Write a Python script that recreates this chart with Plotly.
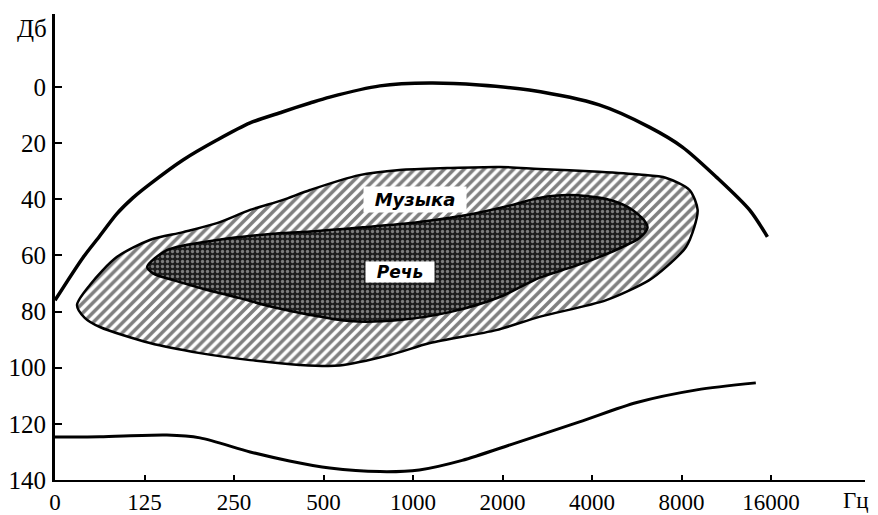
import plotly.graph_objects as go

# X axis: equally spaced octave bands (index positions), labels in Hz
x_tick_labels = ["0", "125", "250", "500", "1000", "2000", "4000", "8000", "16000"]
y_tick_vals = [0, 20, 40, 60, 80, 100, 120, 140]

# Upper curve (threshold of pain)
pain_x = [0.0, 0.31, 0.50, 0.69, 0.87, 1.06, 1.43, 1.81, 2.18, 2.54, 2.85, 3.07, 3.63, 4.19, 4.74, 5.30, 6.08, 6.64, 7.01, 7.39, 7.76, 7.96]
pain_db = [76.0, 60.9, 53.1, 45.2, 39.5, 34.6, 26.0, 18.9, 12.8, 8.9, 5.7, 3.6, -0.4, -1.4, -0.7, 1.1, 6.4, 14.3, 21.4, 32.1, 43.8, 53.4]

# Lower curve (threshold of hearing)
hear_x = [0.0, 0.50, 1.25, 1.62, 2.18, 2.62, 3.07, 3.63, 4.07, 4.55, 5.11, 5.86, 6.50, 7.17, 7.83]
hear_db = [124.7, 124.6, 124.0, 125.0, 130.0, 133.2, 135.7, 137.0, 136.4, 133.0, 127.2, 119.3, 112.4, 107.9, 105.4]

# Music region outline
music_x = [0.246, 0.39, 0.69, 1.06, 1.43, 1.81, 2.18, 2.54, 2.85, 3.40, 3.85, 4.38, 4.97, 5.41, 6.08, 6.53, 6.83, 7.09, 7.18,
           7.14, 7.05, 6.83, 6.64, 6.16, 5.41, 4.93, 4.19, 3.74, 3.18, 2.73, 2.18, 1.62, 1.06, 0.502, 0.335, 0.246]
music_db = [77.7, 70.5, 60.6, 54.5, 51.7, 48.5, 43.8, 40.3, 36.7, 31.4, 29.6, 28.9, 28.5, 29.2, 30.2, 31.2, 32.4, 36.7, 43.8,
            50.2, 57.0, 64.1, 68.8, 75.9, 81.9, 86.6, 91.2, 95.5, 99.2, 99.0, 97.3, 94.8, 91.2, 85.5, 82.3, 77.7]

# Speech region outline
speech_x = [1.03, 1.25, 1.81, 2.54, 2.85, 3.44, 4.07, 4.60, 5.11, 5.41, 5.75, 6.16, 6.42, 6.58, 6.62,
            6.53, 6.34, 6.08, 5.78, 5.41, 4.97, 4.41, 3.85, 3.29, 2.85, 2.43, 2.06, 1.70, 1.32, 1.10, 1.03]
speech_db = [64.1, 58.1, 54.5, 52.0, 51.5, 50.0, 48.1, 45.6, 42.0, 39.5, 38.5, 39.9, 43.1, 47.4, 50.2,
             53.8, 57.0, 60.6, 64.1, 68.0, 74.8, 80.2, 83.0, 83.4, 81.2, 78.4, 75.2, 72.3, 68.8, 66.5, 64.1]

SERIF = "Liberation Serif"

fig = go.Figure()

fig.add_trace(go.Scatter(
    x=music_x, y=music_db, mode="lines", fill="toself",
    line=dict(color="black", width=2.5, shape="spline", smoothing=0.8),
    fillcolor="white",
    fillpattern=dict(shape="/", fgcolor="black", bgcolor="white", size=7, solidity=0.5),
    hoverinfo="skip", showlegend=False,
))

fig.add_trace(go.Scatter(
    x=speech_x, y=speech_db, mode="lines", fill="toself",
    line=dict(color="black", width=2.5, shape="spline", smoothing=0.8),
    fillcolor="#1c1c1c",
    fillpattern=dict(shape=".", fgcolor="#e0e0e0", bgcolor="#1c1c1c", size=5, solidity=0.35),
    hoverinfo="skip", showlegend=False,
))

fig.add_trace(go.Scatter(
    x=pain_x, y=pain_db, mode="lines",
    line=dict(color="black", width=3.5, shape="spline", smoothing=0.8),
    hoverinfo="skip", showlegend=False,
))

fig.add_trace(go.Scatter(
    x=hear_x, y=hear_db, mode="lines",
    line=dict(color="black", width=3, shape="spline", smoothing=0.8),
    hoverinfo="skip", showlegend=False,
))

fig.add_annotation(x=4.02, y=39.9, text="Музыка", showarrow=False,
                   font=dict(family="DejaVu Sans", size=18, color="black", weight="bold", style="italic"),
                   bgcolor="white", borderpad=1, width=100, height=23)
fig.add_annotation(x=3.85, y=65.9, text="Речь", showarrow=False,
                   font=dict(family="DejaVu Sans", size=17, color="black", weight="bold", style="italic"),
                   bgcolor="white", borderpad=1, width=66, height=18)

fig.add_annotation(x=-0.028, y=0.968, xref="paper", yref="paper", text="Дб", showarrow=False,
                   xanchor="center", yanchor="middle",
                   font=dict(family=SERIF, size=25, color="black"))
fig.add_annotation(x=0.989, y=-0.045, xref="paper", yref="paper", xanchor="center", yanchor="middle",
                   text="Гц", showarrow=False,
                   font=dict(family=SERIF, size=23, color="black"))

# the page adds an 8px body margin, so the figure is sized to fit the 878x515 window
fig.update_layout(
    width=870, height=507,
    margin=dict(l=47, r=13, t=6, b=35, autoexpand=False),
    paper_bgcolor="white", plot_bgcolor="white",
    font=dict(family=SERIF, size=25, color="black"),
    showlegend=False,
)

fig.update_xaxes(
    range=[0, 9.05], tickmode="array", tickvals=list(range(len(x_tick_labels))), ticktext=x_tick_labels,
    tickfont=dict(family=SERIF, size=23, color="black"),
    showline=True, linecolor="black", linewidth=2, ticks="inside", ticklen=5, tickwidth=1.5, tickcolor="black",
    showgrid=False, zeroline=False, fixedrange=True, ticklabelstandoff=0, automargin=False,
)
fig.update_yaxes(
    range=[140, -26], tickmode="array", tickvals=y_tick_vals,
    showline=True, linecolor="black", linewidth=3, ticks="inside", ticklen=7, tickwidth=1.5, tickcolor="black",
    showgrid=False, zeroline=False, fixedrange=True, ticklabelstandoff=1, automargin=False,
)

fig.write_html("out.html")
